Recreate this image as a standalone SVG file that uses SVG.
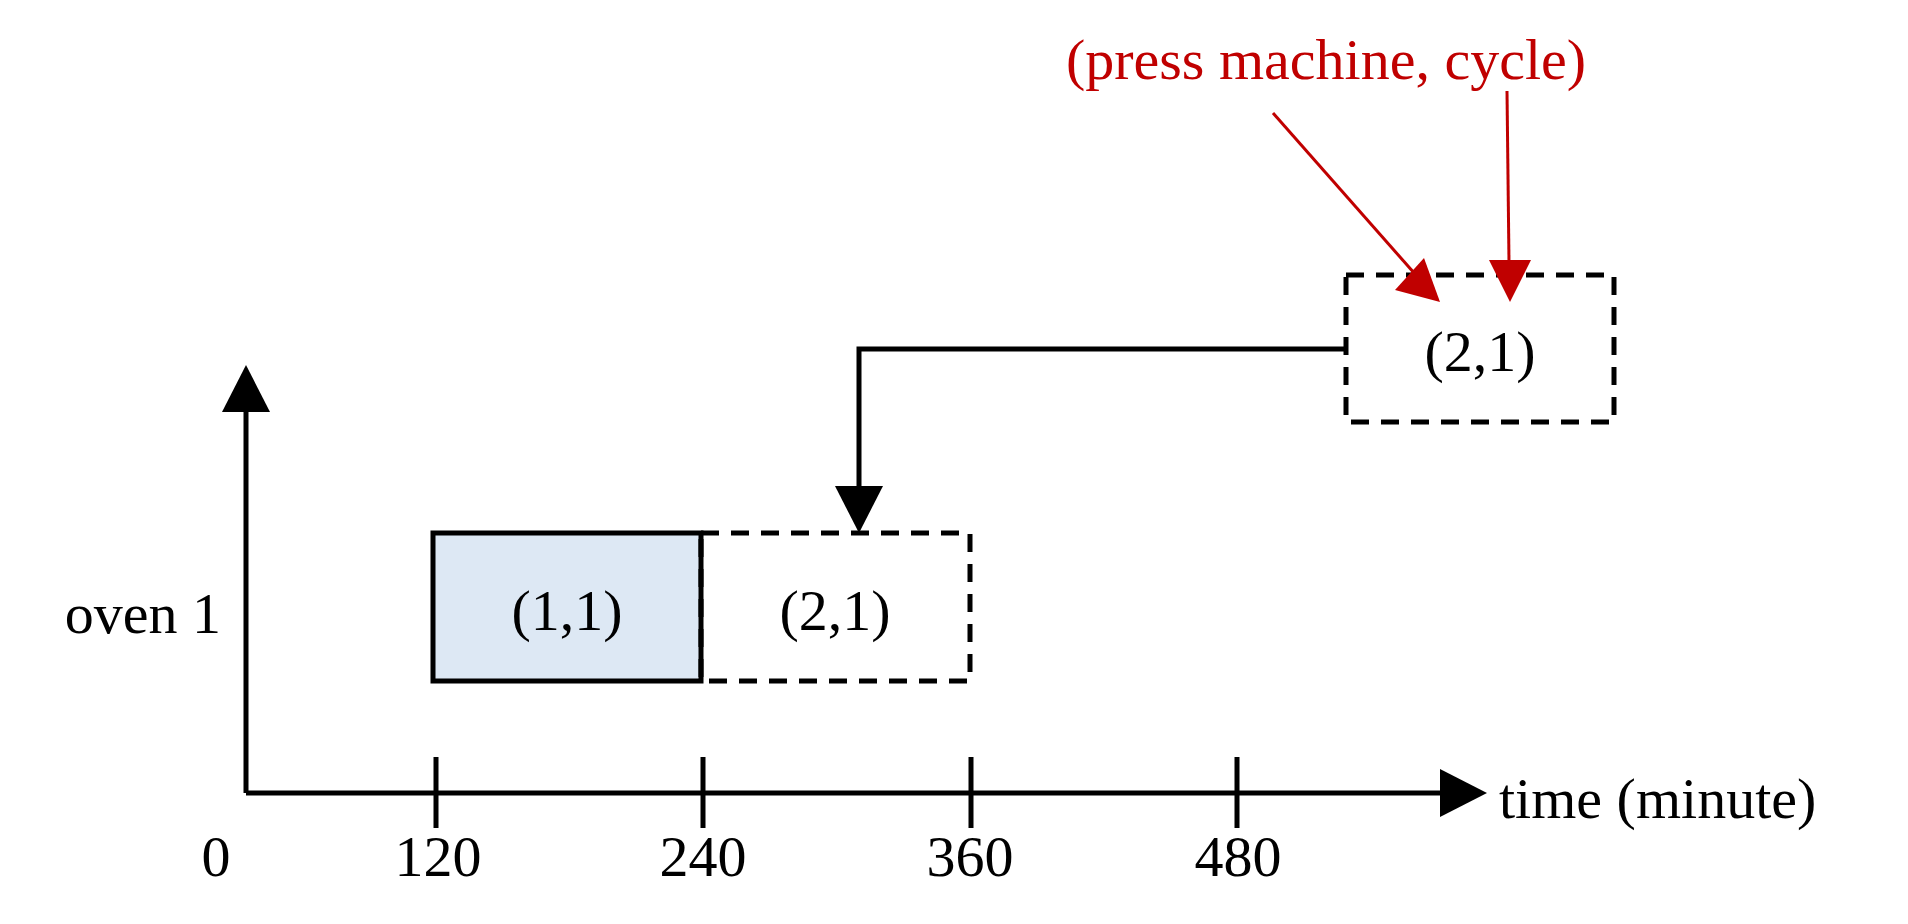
<svg xmlns="http://www.w3.org/2000/svg" width="1908" height="924" viewBox="0 0 1908 924">
<style>
text{font-family:"Liberation Serif","Times New Roman",serif;font-size:58px;fill:#000}
.ln{stroke:#000;stroke-width:5;fill:none}
.dash{stroke:#000;stroke-width:5;fill:none;stroke-dasharray:18,12}
.red{stroke:#c00000;stroke-width:3;fill:none}
</style>
<defs>
<marker id="ab" markerWidth="10" markerHeight="10" refX="9" refY="5" orient="auto" markerUnits="userSpaceOnUse" viewBox="0 0 10 10"><path d="M0,0L10,5L0,10z" fill="#000"/></marker>
<marker id="ar" markerWidth="10" markerHeight="10" refX="9" refY="5" orient="auto" viewBox="0 0 10 10"><path d="M0,0L10,5L0,10z" fill="#c00000"/></marker>
</defs>
<g id="axes">
<path class="ln" d="M246,793V410"/><path d="M222,412L246,365L270,412z"/>
<path class="ln" d="M246,793H1440"/><path d="M1440,769L1487,793L1440,817z"/>
<path class="ln" d="M436,757V828M703,757V828M971,757V828M1237,757V828"/>
<text x="216" y="876" text-anchor="middle">0</text>
<text x="438" y="876" text-anchor="middle">120</text>
<text x="703" y="876" text-anchor="middle">240</text>
<text x="970" y="876" text-anchor="middle">360</text>
<text x="1238" y="876" text-anchor="middle">480</text>
<text x="1499" y="818">time (minute)</text>
<text x="221" y="633" text-anchor="end">oven 1</text>
</g>
<g id="n11"><rect x="433" y="533" width="268" height="148" fill="#dde8f4" stroke="#000" stroke-width="5"/><text x="567" y="630" text-anchor="middle">(1,1)</text></g>
<g id="n21a"><rect class="dash" x="701" y="533" width="269" height="148"/><text x="835" y="630" text-anchor="middle">(2,1)</text></g>
<g id="n21b"><rect class="dash" x="1346" y="275" width="268" height="147"/><text x="1480" y="371" text-anchor="middle">(2,1)</text></g>
<g id="connectors">
<path class="ln" d="M1346,349H859V490"/><path d="M835,486L859,533L883,486z"/>
<path class="red" d="M1273,113L1415,274"/><path d="M1395,290L1440,302L1424,258z" fill="#c00000"/>
<path class="red" d="M1507,91L1509,262"/><path d="M1489,260L1510,302L1531,260z" fill="#c00000"/>
</g>
<text x="1326" y="79" text-anchor="middle" style="fill:#c00000">(press machine, cycle)</text>
</svg>
